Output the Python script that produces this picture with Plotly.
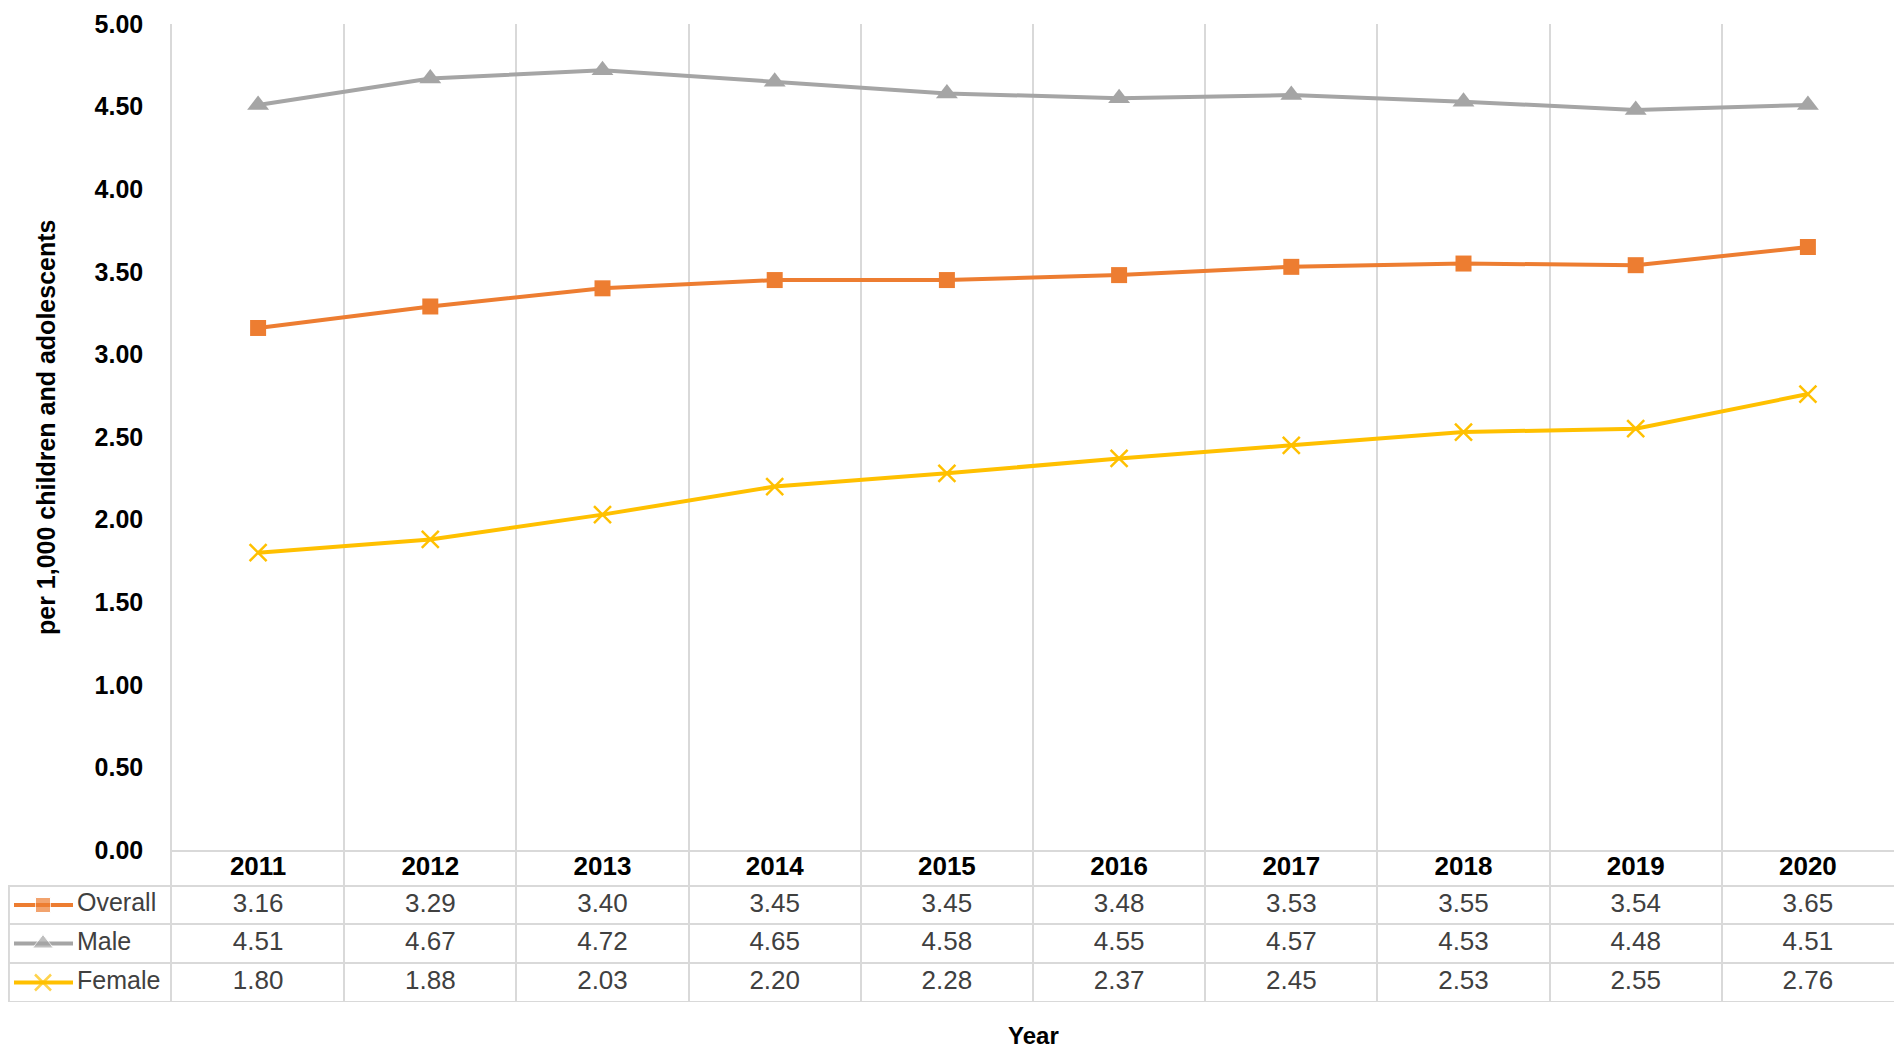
import plotly.graph_objects as go

# the page puts the figure 8px in from the top-left corner (body margin),
# so the figure is 8px smaller than the 1902x1052 window
OFF = 8
W, H = 1902 - OFF, 1052 - OFF

years = ["2011", "2012", "2013", "2014", "2015", "2016", "2017", "2018", "2019", "2020"]
overall = [3.16, 3.29, 3.40, 3.45, 3.45, 3.48, 3.53, 3.55, 3.54, 3.65]
male = [4.51, 4.67, 4.72, 4.65, 4.58, 4.55, 4.57, 4.53, 4.48, 4.51]
female = [1.80, 1.88, 2.03, 2.20, 2.28, 2.37, 2.45, 2.53, 2.55, 2.76]
y_ticks = [0, 0.5, 1, 1.5, 2, 2.5, 3, 3.5, 4, 4.5, 5]

series = [
    ("Overall", overall, "#ED7D31", dict(symbol="square", size=16)),
    ("Male", male, "#A5A5A5", dict(symbol="triangle-up", size=19)),
    ("Female", female, "#FFC000", dict(symbol="x-thin-open", size=17, line=dict(width=2.5, color="#FFC000"))),
]

FONT = "Liberation Sans, Arial, sans-serif"
GRID = "#D9D9D9"


def px_x(p):
    return (p - OFF) / W


def px_y(p):
    return 1 - (p - OFF) / H


# pixel layout in window coordinates
plot_l, plot_r = 172, 1894
plot_t, plot_b = 24, 850
table_b = 1002
key_l = OFF
# table rows (header, overall, male, female)
row_mid = [868, 905, 943.5, 982.5]
row_lines = [886, 924, 963, 1002]

fig = go.Figure()

# chart lines
for name, vals, color, marker in series:
    fig.add_trace(go.Scatter(
        x=years, y=vals, name=name, mode="lines+markers",
        line=dict(color=color, width=4),
        marker=dict(color=color, **marker),
        xaxis="x", yaxis="y", showlegend=False, hoverinfo="skip",
    ))

# table header row (years)
fig.add_trace(go.Scatter(
    x=years, y=[row_mid[0]] * len(years), mode="text",
    text=["<b>%s</b>" % y for y in years],
    textfont=dict(family=FONT, size=26, color="#000000"),
    xaxis="x2", yaxis="y2", showlegend=False, hoverinfo="skip",
))

# table value rows
for i, (name, vals, color, marker) in enumerate(series):
    ym = row_mid[i + 1]
    fig.add_trace(go.Scatter(
        x=years, y=[ym] * len(years), mode="text",
        text=["%.2f" % v for v in vals],
        textfont=dict(family=FONT, size=26, color="#404040"),
        xaxis="x2", yaxis="y2", showlegend=False, hoverinfo="skip",
    ))
    # legend key in the first column
    fig.add_trace(go.Scatter(
        x=[6, 35, 65], y=[ym] * 3, mode="lines+markers",
        line=dict(color=color, width=4),
        marker=dict(color=color, **{**marker, "size": [0, marker["size"] - 1, 0]}),
        xaxis="x3", yaxis="y2", showlegend=False, hoverinfo="skip",
    ))
    fig.add_trace(go.Scatter(
        x=[69], y=[ym], mode="text", text=[name], textposition="middle right",
        textfont=dict(family=FONT, size=25, color="#404040"),
        xaxis="x3", yaxis="y2", showlegend=False, hoverinfo="skip",
    ))

# table borders
shapes = []
for r in row_lines:
    shapes.append(dict(type="line", xref="paper", yref="y2",
                       x0=px_x(key_l), x1=px_x(plot_r), y0=r, y1=r,
                       line=dict(color=GRID, width=2)))
shapes.append(dict(type="line", xref="paper", yref="y2",
                   x0=px_x(key_l) + 0.0005, x1=px_x(key_l) + 0.0005,
                   y0=row_lines[0], y1=row_lines[-1],
                   line=dict(color=GRID, width=2)))

fig.update_layout(
    width=W, height=H,
    margin=dict(l=0, r=0, t=0, b=0, autoexpand=False),
    plot_bgcolor="white", paper_bgcolor="white",
    font=dict(family=FONT),
    shapes=shapes,
    xaxis=dict(
        type="category", domain=[px_x(plot_l), px_x(plot_r)], anchor="y",
        range=[-0.5, 9.5], tickson="boundaries", showgrid=True, gridcolor=GRID, gridwidth=1.5,
        showticklabels=False, ticks="", showline=True, linecolor=GRID, linewidth=2,
        zeroline=False, automargin=False,
    ),
    yaxis=dict(
        domain=[px_y(plot_b), px_y(plot_t)], anchor="x", range=[0, 5],
        tickvals=y_ticks, tickformat=".2f", showgrid=False, zeroline=False,
        tickfont=dict(family=FONT, size=25, color="#000000", weight="bold"),
        ticklabelstandoff=22, ticklabeloverflow="allow", ticks="", automargin=False,
        showline=True, linecolor=GRID, linewidth=1.5, mirror=True,
    ),
    xaxis2=dict(
        type="category", domain=[px_x(plot_l), px_x(plot_r)], anchor="y2",
        range=[-0.5, 9.5], tickson="boundaries", showgrid=True, gridcolor=GRID, gridwidth=1.5,
        showticklabels=False, ticks="", zeroline=False, automargin=False,
    ),
    yaxis2=dict(
        domain=[px_y(table_b), px_y(plot_b)], anchor="x2", range=[table_b, plot_b],
        showgrid=False, showticklabels=False, ticks="", zeroline=False, automargin=False,
        showline=True, linecolor=GRID, linewidth=1.5, mirror=True,
    ),
    xaxis3=dict(
        domain=[px_x(key_l), px_x(plot_l)], anchor="y2", range=[0, plot_l - key_l],
        showgrid=False, showticklabels=False, ticks="", zeroline=False, showline=False,
        automargin=False,
    ),
    annotations=[
        dict(text="<b>per 1,000 children and adolescents</b>", textangle=-90,
             xref="paper", yref="paper", x=px_x(46), y=px_y(428),
             xanchor="center", yanchor="middle",
             showarrow=False, font=dict(family=FONT, size=25, color="#000000")),
        dict(text="<b>Year</b>", xref="paper", yref="paper",
             x=px_x((plot_l + plot_r) / 2), y=px_y(1035),
             xanchor="center", yanchor="middle",
             showarrow=False, font=dict(family=FONT, size=24, color="#000000")),
    ],
)

fig.write_html("out.html")
